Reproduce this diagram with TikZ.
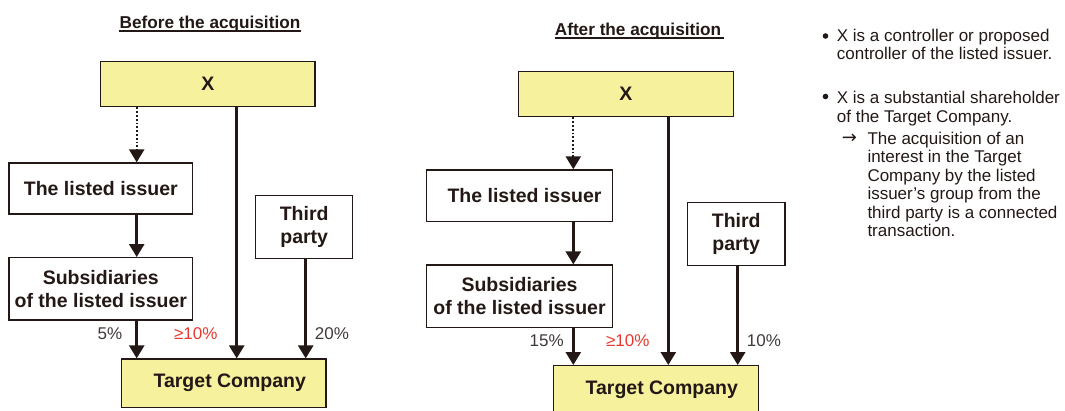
\documentclass[tikz,border=0pt]{standalone}
\usepackage{fontspec}
\setmainfont{Liberation Sans}
\newfontfamily\arrowfont{DejaVu Sans}
\usetikzlibrary{arrows.meta}

\definecolor{ink}{RGB}{35,24,21}
\definecolor{boxyellow}{RGB}{246,241,157}
\definecolor{pctred}{RGB}{232,56,48}
\definecolor{pctgray}{RGB}{62,58,57}

\tikzset{
  box/.style={draw=ink, line width=1.3pt, text=ink, inner sep=0pt, align=center,
    font=\fontsize{19.5}{23.5}\selectfont\bfseries},
  xbox/.style={box, fill=boxyellow},
  link/.style={draw=ink, line width=2.6pt, -{Triangle[width=15pt,length=13pt]}},
  dotlink/.style={link, line width=2.3pt, dash pattern=on 1.8pt off 2pt},
  pct/.style={inner sep=0pt, text=pctgray, font=\fontsize{17}{17}\selectfont},
  heading/.style={anchor=base, inner sep=0pt, text=ink, font=\fontsize{17.2}{20}\selectfont\bfseries},
  note/.style={anchor=base west, inner sep=0pt, text=ink, font=\fontsize{17}{18}\selectfont},
  bullet/.style={circle, fill=ink, inner sep=0pt, minimum size=5.6pt},
}

\begin{document}
\begin{tikzpicture}[x=1pt, y=-1pt]
    \useasboundingbox (0,0) rectangle (1065,410);

    % before the acquisition
    \node[heading] (tb) at (210,28.3) {Before the acquisition};
    \draw[ink, line width=1.3pt] ([yshift=-2.8pt]tb.base west) -- ([yshift=-2.8pt]tb.base east);

    \node[xbox, minimum width=214.3pt, minimum height=45pt] (xb) at (207.8,84.2) {X};
    \node[box, minimum width=183.7pt, minimum height=51pt] (li) at (100.8,188.5) {The listed issuer};
    \node[box, minimum width=183.7pt, minimum height=62.3pt] (sub) at (100.8,288.8) {Subsidiaries\\of the listed issuer};
    \node[box, minimum width=97pt, minimum height=62.6pt] (tp) at (304.2,227) {Third\\party};
    \node[xbox, minimum width=204.3pt, minimum height=48.3pt] (tg) at (223.8,383.2) {\hspace*{12pt}Target Company};

    \coordinate (lc) at (136.7,0);
    \coordinate (mc) at (236.7,0);
    \coordinate (rc) at (305.7,0);

    \draw[dotlink] (xb.south -| lc) -- (li.north -| lc);
    \draw[link] (li.south -| lc) -- (sub.north -| lc);
    \draw[link] (sub.south -| lc) -- (tg.north -| lc);
    \draw[link] (xb.south -| mc) -- (tg.north -| mc);
    \draw[link] (tp.south -| rc) -- (tg.north -| rc);

    \node[pct] (p1) at (110,333.5) {5\%};
    \node[pct, text=pctred] (p2) at (195.7,333.5) {≥10\%};
    \node[pct] (p3) at (332,333.5) {20\%};

    % after the acquisition
    \node[heading] (ta) at (638,35) {After the acquisition};
    \draw[ink, line width=1.3pt] ([yshift=-3pt]ta.base west) -- ([yshift=-3pt,xshift=3pt]ta.base east);

    \node[xbox, minimum width=215pt, minimum height=45pt] (xa) at (625.8,94.2) {X};
    \node[box, minimum width=185.6pt, minimum height=51.7pt] (li2) at (519.5,195.8) {\hspace*{10pt}The listed issuer};
    \node[box, minimum width=185.6pt, minimum height=62.3pt] (sub2) at (519.5,296.2) {Subsidiaries\\of the listed issuer};
    \node[box, minimum width=97.7pt, minimum height=63pt] (tp2) at (736.2,234.2) {Third\\party};
    \node[xbox, minimum width=205pt, minimum height=48.3pt] (tg2) at (655.8,389.8) {\hspace*{12pt}Target Company};

    \coordinate (lc2) at (573.3,0);
    \coordinate (mc2) at (668.3,0);
    \coordinate (rc2) at (737.7,0);

    \draw[dotlink] (xa.south -| lc2) -- (li2.north -| lc2);
    \draw[link] (li2.south -| lc2) -- (sub2.north -| lc2);
    \draw[link] (sub2.south -| lc2) -- (tg2.north -| lc2);
    \draw[link] (xa.south -| mc2) -- (tg2.north -| mc2);
    \draw[link] (tp2.south -| rc2) -- (tg2.north -| rc2);

    \node[pct] (q1) at (546.7,340.7) {15\%};
    \node[pct, text=pctred] (q2) at (627.7,340.7) {≥10\%};
    \node[pct] (q3) at (764,340.7) {10\%};

    % notes
    \node[bullet] (b1) at (825.5,36) {};
    \node[note] (n1) at (836.7,41.5) {X is a controller or proposed};
    \node[note] (n2) at (836.7,59.8) {controller of the listed issuer.};

    \node[bullet] (b2) at (825.5,96.5) {};
    \node[note] (n3) at (836.7,103.3) {X is a substantial shareholder};
    \node[note] (n4) at (836.7,122) {of the Target Company.};

    \node[inner sep=0pt, text=ink, font=\arrowfont\fontsize{18}{18}\selectfont] (ar) at (849.5,138.5) {→};
    \node[note] (n5) at (867.3,144) {The acquisition of an};
    \node[note] (n6) at (867.3,162.5) {interest in the Target};
    \node[note] (n7) at (867.3,181) {Company by the listed};
    \node[note] (n8) at (867.3,199.5) {issuer’s group from the};
    \node[note] (n9) at (867.3,218) {third party is a connected};
    \node[note] (n10) at (867.3,236.5) {transaction.};
\end{tikzpicture}
\end{document}
